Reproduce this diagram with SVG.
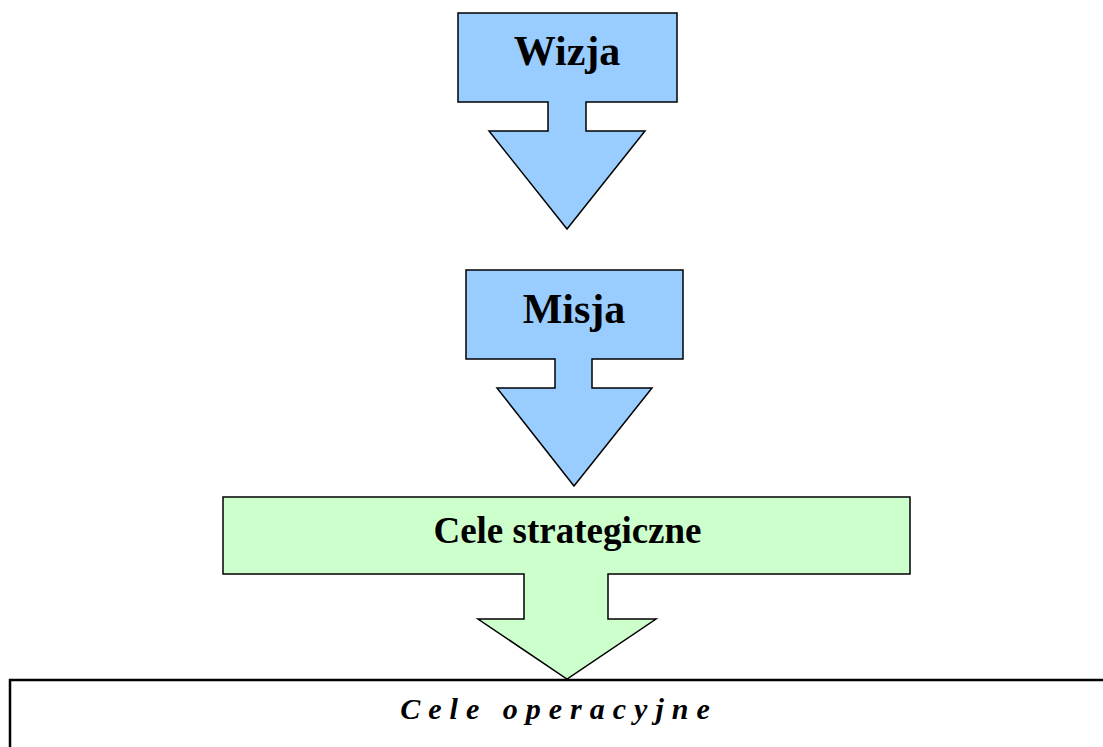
<svg xmlns="http://www.w3.org/2000/svg" width="1103" height="747" viewBox="0 0 1103 747">
<style>
.shape{stroke:#000;stroke-width:1.5;stroke-linejoin:miter}
.blue{fill:#99CCFF}
.green{fill:#CCFFCC}
.t{font-family:"Liberation Serif","Times New Roman",serif;font-weight:bold;fill:#000;text-anchor:middle}
</style>
<rect width="1103" height="747" fill="#fff"/>
<g id="connectors"></g>
<g id="wizja">
<path class="shape blue" d="M458,13 H677 V102 H586 V131 H645 L567,229 L489,131 H548 V102 H458 Z"/>
<text class="t" x="567" y="65" font-size="42">Wizja</text>
</g>
<g id="misja">
<path class="shape blue" d="M466,270 H683 V359 H592 V388 H652 L574,486 L497,388 H555 V359 H466 Z"/>
<text class="t" x="574" y="323" font-size="42">Misja</text>
</g>
<g id="cele-strategiczne">
<path class="shape green" d="M223,497 H910 V574 H608 V619 H656 L567,679 L478,619 H524 V574 H223 Z"/>
<text class="t" x="567.5" y="543" font-size="37">Cele strategiczne</text>
</g>
<g id="cele-operacyjne">
<rect x="10" y="680" width="1200" height="200" fill="#fff" stroke="#000" stroke-width="2.5"/>
<text class="t" x="559" y="719" font-size="30" font-style="italic" letter-spacing="8">Cele operacyjne</text>
</g>
</svg>
